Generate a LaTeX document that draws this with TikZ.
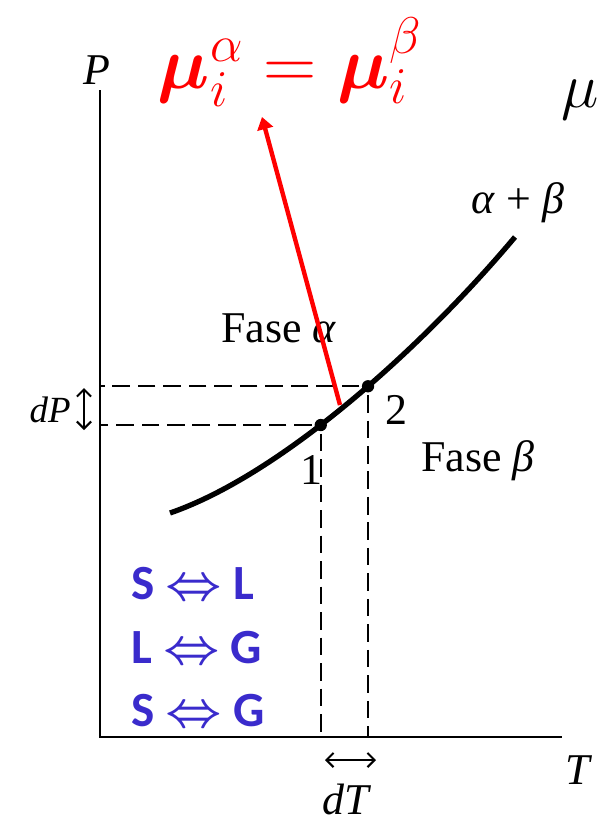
\RequirePackage{fix-cm}
\documentclass[tikz,border=0pt]{standalone}
\usepackage{amsmath}
\usepackage{bm}
\usepackage{fontspec}
\setmainfont{Liberation Serif}
\newfontfamily\blfont{Carlito}
\usetikzlibrary{arrows.meta}
\definecolor{phaseblue}{RGB}{58,43,204}
\definecolor{eqred}{RGB}{255,0,0}

\begin{document}
\begin{tikzpicture}[
    x=0.02cm, y=-0.02cm,
    lbl/.style={inner sep=0pt, font=\fontsize{25}{28}\selectfont},
    small/.style={inner sep=0pt, font=\fontsize{21}{24}\selectfont},
    trans/.style={inner sep=0pt, anchor=west, text=phaseblue, font=\blfont\bfseries\fontsize{28}{32}\selectfont},
    axis/.style={line width=1.1pt},
    dashln/.style={line width=0.9pt, dash pattern=on 10pt off 4.5pt},
    dot/.style={circle, fill=black, inner sep=0pt, minimum size=7pt},
    dbl/.style={{Straight Barb[length=4pt,width=8pt]}-{Straight Barb[length=4pt,width=8pt]}, line width=1.2pt},
    redarr/.style={-{Triangle[length=7pt,width=9pt]}, line width=2.5pt, eqred}
]
\useasboundingbox (0,0) rectangle (596,829);
% axes
\coordinate (o) at (100,737);
\coordinate (ptop) at (100,90);
\coordinate (tend) at (562,737);
\draw[axis] (ptop) -- (o) -- (tend);
\node[lbl, font=\fontsize{25}{28}\selectfont\itshape] (plab) at (97,70) {P};
\node[lbl, font=\fontsize{25}{28}\selectfont\itshape] (tlab) at (578,770) {T};

% coexistence curve
\draw[line width=3pt] (170,513) .. controls (280,475) and (420,350) .. (515,237)
    node[dot, pos=0.425] (p1) {}
    node[dot, pos=0.555] (p2) {};
\node[lbl] (n1) at (311,470) {1};
\node[lbl] (n2) at (396,410) {2};

% dashed guides
\draw[dashln] (p1) -- (p1 -| o);
\draw[dashln] (p2) -- (p2 -| o);
\draw[dashln] (p1) -- (p1 |- o);
\draw[dashln] (p2) -- (p2 |- o);

% increments
\coordinate (dpa) at (84,388);
\coordinate (dpb) at (84,430);
\draw[dbl] (dpa) -- (dpb);
\node[small, anchor=east, font=\fontsize{21}{24}\selectfont\itshape] (dplab) at (71,410) {dP};
\coordinate (dta) at (325,760);
\coordinate (dtb) at (376,760);
\draw[dbl] (dta) -- (dtb);
\node[lbl, font=\fontsize{25}{28}\selectfont\itshape] (dtlab) at (346,799) {dT};

% phase labels
\node[lbl] (fa) at (279,328) {Fase \textit{α}};
\node[lbl] (fb) at (478,461) {Fase \textit{β}};
\node[lbl] (ab) at (518,203) {\textit{α} + \textit{β}};

% equilibrium condition
\node[inner sep=0pt, text=eqred, font=\fontsize{42}{50}\selectfont] (eq) at (290,62)
    {$\bm{\mu}_i^{\alpha} = \bm{\mu}_i^{\beta}$};
\coordinate (tail) at (340,405);
\coordinate (tip) at (262,117);
\draw[redarr] (tail) -- (tip);
\node[inner sep=0pt, anchor=west, font=\fontsize{36}{40}\selectfont] (mu) at (561,100) {$\mu$};

% transitions
\node[trans] (sl) at (131,584) {S $\bm{\Leftrightarrow}$ L};
\node[trans] (lg) at (131,648) {L $\bm{\Leftrightarrow}$ G};
\node[trans] (sg) at (131,711) {S $\bm{\Leftrightarrow}$ G};
\end{tikzpicture}
\end{document}
